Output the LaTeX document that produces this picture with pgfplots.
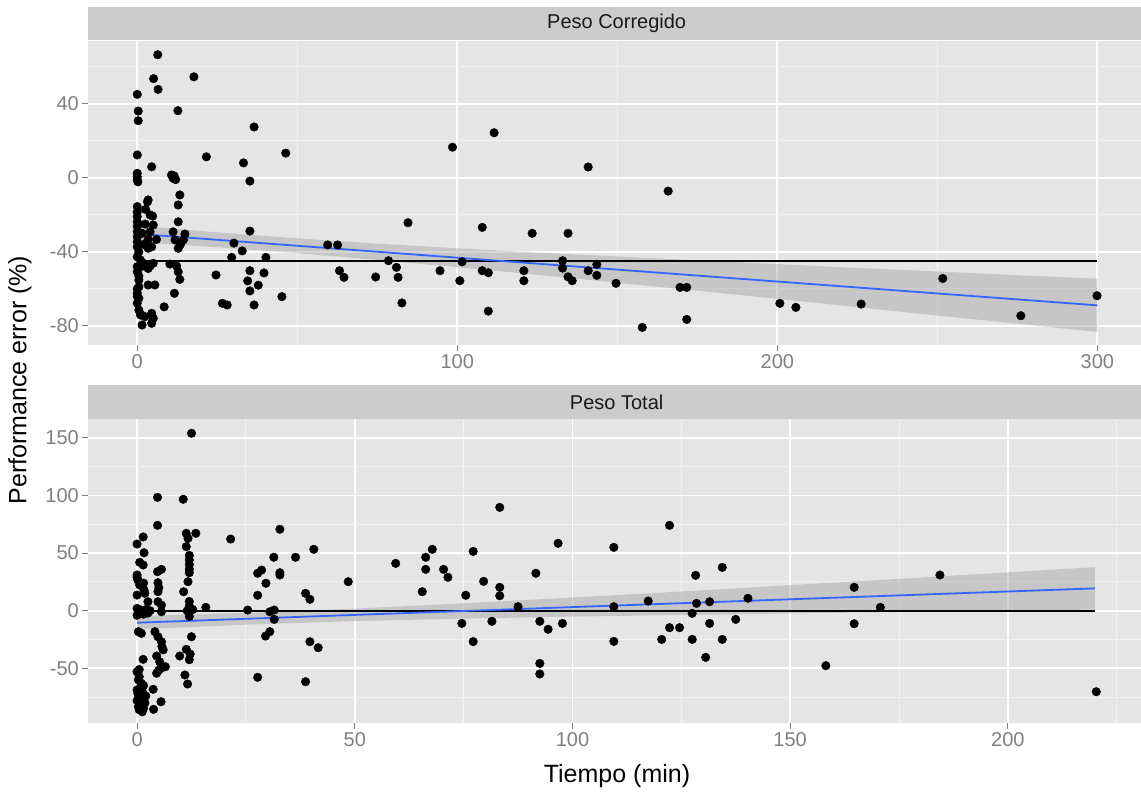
\documentclass[border=0pt]{standalone}
\usepackage{fontspec}
\setmainfont{Liberation Sans}
\usepackage{pgfplots}
\usepackage{pgfplotstable}
\pgfplotsset{compat=1.18}
\definecolor{panelbg}{HTML}{E5E5E5}
\definecolor{stripbg}{HTML}{CCCCCC}
\definecolor{ticktxt}{HTML}{7F7F7F}
\definecolor{minorgrid}{HTML}{F2F2F2}
\definecolor{smoothblue}{HTML}{3366FF}
\definecolor{ribbon}{HTML}{999999}

\pgfplotstableread{
x y
0 45
0.3 36
0.3 30.8
0 12.3
0 2.4
0 0.5
0 -1.2
0.2 -2.2
0 -15.6
0 -18.5
0 -21
0 -23.8
0 -26.4
0 -29.2
0 -31.9
0 -34.6
0 -37.3
0.5 -40
0 -42.7
1 -44.4
0 -48
1.2 -48
0 -50.8
0.5 -55.2
0.5 -58.9
0 -62.4
0.5 -65.1
0 -67.8
0.5 -71.4
1 -74.1
1.5 -79.5
1.2 -74
0 -60
0 -64
0.5 -53
2.6 -17.1
3.2 -13
3.4 -12
1.9 -46.2
3.4 -49
2.4 -75
1.5 -47
2 -36
1.5 -30
2.5 -25
4.5 5.9
5.1 53.5
6.4 66.4
6.5 47.7
4 -20.1
5 -25.5
4 -29.2
3.4 -33.3
3.4 -38.1
4.5 -37.3
6 -33.3
5 -46.2
4 -47.7
3.4 -57.9
5.5 -57.9
4.5 -73.2
5 -75.9
4.5 -78.6
4.8 -20.7
12.7 36.2
10.7 1.5
11.2 -0.3
12 -1
11.5 1
13.3 -9.3
12.8 -14.7
12.8 -23.8
11.2 -29.2
14.9 -30.4
11.8 -33.6
14.4 -33.6
12.8 -38.1
10.2 -46.6
12.3 -47.7
12.8 -50.8
13.3 -54.9
11.6 -62.4
8.4 -69.7
13.5 -36
17.7 54.5
21.6 11.3
24.6 -52.5
26.6 -67.8
28.1 -68.7
36.5 27.4
46.4 13.3
33.2 8
35.2 -1.8
35.2 -28.8
30.2 -35.3
32.8 -39.5
29.5 -43
40.2 -43
35.2 -50.2
39.6 -51.4
34.5 -55.7
37.8 -58
35.2 -61.1
36.5 -68.7
45.2 -64.2
59.5 -36.3
62.6 -36.3
63.2 -50.2
64.6 -53.8
74.5 -53.6
78.5 -44.8
81 -48.4
81.5 -53.8
82.7 -67.6
84.6 -24.3
94.6 -50.2
98.5 16.5
100.8 -55.6
101.5 -45.4
111.5 24.3
140.9 5.8
165.9 -7.2
107.8 -26.8
123.4 -30
134.6 -30
107.8 -50.2
109.7 -51.3
109.7 -72
120.8 -50.2
120.8 -55.6
132.9 -44.8
132.9 -48.8
134.6 -53.5
135.9 -55.6
140.9 -50.2
143.6 -46.8
143.6 -52.7
149.6 -57
157.8 -80.8
169.6 -59.2
171.7 -59.2
171.7 -76.5
200.8 -67.8
205.8 -70
226.2 -68.2
251.7 -54.4
276.1 -74.5
299.9 -63.7
}\corregido

\pgfplotstableread{
x y
0 57.9
1.4 64
1.6 50.3
0.6 42
1.4 39.7
0 31
0.2 26.6
0.6 22.3
1.6 18
0 13.6
1.8 15.1
2.5 7.8
0 29
1.5 24
0 2
0.5 -1
1 0.5
1.5 -3
2 1
2.5 -2
3 0
0 -4
0.3 -18.2
1 -19.6
1.4 -42.2
0 -53
0.5 -57.3
1 -63
0 -68.8
0.5 -74.7
1 -80.4
1.5 -84.7
1.2 -87.7
0.3 -83.3
1.5 -77.5
0.3 -60
0.8 -66
1.3 -71
0.2 -72
0.8 -76
1.8 -80
0.5 -86
1 -70
0 -78
2 -74
1.5 -65
0.5 -51
4.7 98.4
4.7 74.1
5.6 35.9
4.7 33.9
4.8 24.3
4.8 16.5
4.8 7.8
5.6 4.9
4.1 -18.2
4.8 -22.6
5.6 -26.9
5.7 -31
6 -34
4.5 -39.3
5.2 -44.3
6.5 -48.6
5 -51.5
4.5 -54.3
5.5 -50
3.7 -68.2
5.5 -79
3.8 -85.6
5.6 -0.9
5 20
12.5 154
10.6 96.7
11.3 67.2
13.5 67.2
11.7 62.8
12 48
12 44
12 40
12 36
12 33
11.7 25.2
10.7 16.5
12 8
12 4
12.3 2
11.5 0
12 -5
12.8 1
15.8 2.9
12.5 -22.6
9.8 -39.3
11.3 -33.5
12.2 -37.6
12 -42.5
11 -55.8
11.6 -63.6
11.3 55.6
21.5 62.2
32.8 70.7
31.4 46.4
36.4 46.4
40.6 53.3
27.7 32.5
28.6 35.3
32.8 31
32.8 33
29.6 23.8
27.7 13.4
38.7 15.1
39.7 9.9
48.5 25.2
25.4 0.6
30.5 -0.9
31.5 0.6
31.5 -7.5
29.5 -22
30.5 -18.2
39.7 -26.9
41.6 -32.1
27.7 -57.8
38.7 -61.6
59.4 41.1
66.3 46.4
67.8 53.3
66.3 35.9
70.4 35.9
71.4 29
65.5 16.5
75.5 13.4
77.2 51.5
74.6 -11
77.2 -26.8
83.3 89.7
79.6 25.5
83.3 20.3
83.3 13
87.5 3.5
81.5 -9.2
96.7 58.5
91.6 32.5
92.5 -9.2
94.4 -16.1
97.7 -11
92.5 -45.7
92.5 -54.9
109.5 55
109.5 3.5
109.5 -26.6
117.4 8.4
122.3 74.1
120.5 -24.9
122.3 -14.7
124.6 -14.7
127.5 -2.3
127.5 -24.9
128.3 30.7
128.5 6.4
130.6 -40.5
131.5 7.8
131.5 -11
134.4 37.6
134.4 -24.9
137.5 -7.5
140.3 10.8
158.2 -47.7
164.7 20.3
164.7 -11.3
170.7 2.9
184.4 31
220.3 -70.3
}\total

\pgfplotsset{
 facet/.style={
  scale only axis, width=1056.7pt, height=304.3pt, anchor=south west,
  axis background/.style={fill=panelbg},
  axis line style={draw=none},
  tick align=outside, tick pos=left,
  major tick length=6pt, minor tick length=0pt,
  tick style={ticktxt, line width=1pt},
  grid=both,
  major grid style={white, line width=1.8pt},
  minor grid style={minorgrid, line width=1pt},
  ticklabel style={font=\fontsize{20}{24}\selectfont, text=ticktxt},
  title style={at={(0.5,1)}, anchor=south, yshift=-6pt, fill=stripbg,
    minimum width=1056.7pt, minimum height=33.7pt, inner sep=0pt,
    text=black!90, font=\fontsize{20}{24}\selectfont},
 },
 pts/.style={only marks, mark=*, mark size=4.3pt, mark options={draw=black, fill=black}},
}

\begin{document}
\begin{tikzpicture}[x=1pt,y=1pt]
\useasboundingbox (0,0) rectangle (1141,794);
\begin{axis}[facet, at={(88.3pt,449pt)},
  xmin=-15.3, xmax=314.9, ymin=-90.3, ymax=74.0,
  xtick={0,100,200,300}, minor xtick={50,150,250},
  ytick={-80,-40,0,40}, minor ytick={-60,-20,20,60},
  xticklabels={0,100,200,300}, yticklabels={-80,-40,0,40},
  title={Peso Corregido}]
\addplot[pts] table {\corregido};
\addplot[draw=none, fill=ribbon, fill opacity=0.4] coordinates {
(0,-25.8) (25,-29.5) (50,-32.7) (75,-35.6) (100,-38.1) (125,-40.4) (150,-42.5)
(175,-44.6) (200,-46.6) (225,-48.7) (250,-50.6) (275,-52.6) (300,-54.5)
(300,-83.3) (275,-78.8) (250,-74.4) (225,-69.9) (200,-65.4) (175,-61.0)
(150,-56.7) (125,-52.4) (100,-48.3) (75,-44.4) (50,-40.7) (25,-37.5) (0,-34.8)} -- cycle;
\addplot[black, line width=1.6pt] coordinates {(0,-45) (300,-45)};
\addplot[smoothblue, line width=1.8pt] coordinates {(0,-30.3) (300,-68.9)};
\end{axis}
\begin{axis}[facet, at={(88.3pt,70.7pt)},
  xmin=-11.2, xmax=231.5, ymin=-97.7, ymax=166.4,
  xtick={0,50,100,150,200}, minor xtick={25,75,125,175,225},
  ytick={-50,0,50,100,150}, minor ytick={-75,-25,25,75,125},
  xticklabels={0,50,100,150,200}, yticklabels={-50,0,50,100,150},
  title={Peso Total}]
\addplot[pts] table {\total};
\addplot[draw=none, fill=ribbon, fill opacity=0.4] coordinates {
(0,-4.6) (25,-1.9) (50,1.8) (75,6.4) (100,11.5) (125,16.7) (150,22.2)
(175,27.7) (200,33.3) (220,37.8)
(220,1.0) (200,0.1) (175,-1.1) (150,-2.4) (125,-3.7) (100,-5.1) (75,-6.8)
(50,-9.0) (25,-12.1) (0,-16.2)} -- cycle;
\addplot[black, line width=1.6pt] coordinates {(0,0) (220,0)};
\addplot[smoothblue, line width=1.8pt] coordinates {(0,-10.4) (220,19.4)};
\end{axis}
\node[rotate=90, font=\fontsize{25}{30}\selectfont] at (20,414) {Performance error (\%)};
\node[font=\fontsize{25}{30}\selectfont] at (617,18) {Tiempo (min)};
\end{tikzpicture}
\end{document}
